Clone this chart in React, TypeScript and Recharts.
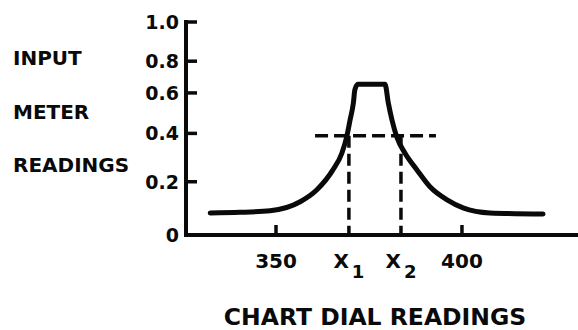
import React from 'react';
import { LineChart, Line, XAxis, YAxis, ReferenceLine, Label } from 'recharts';

// ---- data ----
const dialReadings = [
  332.3, 340.3, 348.4, 356.5, 361.0, 365.3, 367.7, 369.0, 369.9, 370.8, 371.2, 372.0,
  379.3, 380.2, 381.2, 382.5, 384.7, 387.9, 391.4, 396.0, 400.3, 407.5, 421.8,
];
const meterReadings = [
  0.083, 0.085, 0.091, 0.125, 0.17, 0.249, 0.318, 0.385, 0.465, 0.55, 0.619, 0.655,
  0.655, 0.55, 0.465, 0.384, 0.318, 0.249, 0.181, 0.132, 0.102, 0.083, 0.079,
];

const halfLevel = 0.39;
const halfLevelSpan = [360.5, 393.0];
const x1Value = 369.6;
const x2Value = 383.6;

const xTickValues = [350, x1Value, x2Value, 400];
const xTickMain = ['350', 'X', 'X', '400'];
const xTickSub = ['', '1', '2', ''];
const yTickValues = [0, 0.2, 0.4, 0.6, 0.8, 1.0];
const yTickLabels = ['0', '0.2', '0.4', '0.6', '0.8', '1.0'];
const yTitleLines = ['INPUT', 'METER', 'READINGS'];
const xTitle = 'CHART DIAL READINGS';

const data = dialReadings.map((x, i) => ({ x, y: meterReadings[i] }));

// The hand-drawn y axis is not evenly spaced: fraction of axis height at each tick
const Y_WARP_FRAC = [0, 0.25, 0.477, 0.667, 0.816, 1];

function makeWarpScale(knots: number[], fracs: number[]): any {
  let dom: number[] = [knots[0], knots[knots.length - 1]];
  let rng: number[] = [0, 1];
  const seg = (arr: number[], v: number) => {
    let i = 0;
    while (i < arr.length - 2 && v > arr[i + 1]) i++;
    return i;
  };
  const frac = (v: number) => {
    const i = seg(knots, v);
    const t = (v - knots[i]) / (knots[i + 1] - knots[i]);
    return fracs[i] + t * (fracs[i + 1] - fracs[i]);
  };
  const s: any = (v: number) => rng[0] + frac(Number(v)) * (rng[1] - rng[0]);
  s.domain = (d?: any) => {
    if (d === undefined) return dom.slice();
    dom = Array.from(d as number[]);
    return s;
  };
  s.range = (r?: any) => {
    if (r === undefined) return rng.slice();
    rng = Array.from(r as number[]);
    return s;
  };
  s.copy = () => makeWarpScale(knots, fracs).domain(dom).range(rng);
  s.ticks = () => knots.slice();
  s.invert = (px: number) => {
    const f = (px - rng[0]) / (rng[1] - rng[0]);
    const i = seg(fracs, f);
    const t = (f - fracs[i]) / (fracs[i + 1] - fracs[i]);
    return knots[i] + t * (knots[i + 1] - knots[i]);
  };
  return s;
}

const yScale = makeWarpScale(yTickValues, Y_WARP_FRAC);

const FONT = '"DejaVu Sans", sans-serif';
const INK = '#0a0a0a';

const YTick = (props: any) => {
  const { x, y, payload } = props;
  const idx = yTickValues.indexOf(payload.value);
  return (
    <g>
      {payload.value !== 0 && (
        <line x1={x} y1={y} x2={x + 11} y2={y} stroke={INK} strokeWidth={3.5} />
      )}
      <text
        x={x - 7}
        y={y + 7}
        textAnchor="end"
        fontFamily={FONT}
        fontWeight="bold"
        fontSize={19}
        fill={INK}
      >
        {yTickLabels[idx]}
      </text>
    </g>
  );
};

const XTick = (props: any) => {
  const { x, y, payload } = props;
  const idx = xTickValues.indexOf(payload.value);
  const sub = xTickSub[idx];
  return (
    <g>
      {!sub && <line x1={x} y1={y} x2={x} y2={y - 10} stroke={INK} strokeWidth={3.5} />}
      <text
        x={x}
        y={y + 33}
        textAnchor="middle"
        fontFamily={FONT}
        fontWeight="bold"
        fontSize={20}
        fill={INK}
      >
        {xTickMain[idx]}
        {sub && (
          <tspan dx={3} dy={10} fontSize={18}>
            {sub}
          </tspan>
        )}
      </text>
    </g>
  );
};

const YTitle = () => (
  <g>
    {yTitleLines.map((t, i) => (
      <text
        key={t}
        x={13}
        y={65 + i * 53.5}
        fontFamily={FONT}
        fontWeight="bold"
        fontSize={20}
        fill={INK}
      >
        {t}
      </text>
    ))}
  </g>
);

const XTitle = () => (
  <text
    x={375}
    y={325}
    textAnchor="middle"
    fontFamily={FONT}
    fontWeight="bold"
    fontSize={23.5}
    fill={INK}
  >
    {xTitle}
  </text>
);

export default function App() {
  return (
    <div style={{ position: 'absolute', left: 0, top: 0, background: '#fff' }}>
      <LineChart
        width={578}
        height={330}
        data={data}
        margin={{ top: 22, right: 0, left: 126, bottom: 65 }}
      >
        <XAxis
          dataKey="x"
          type="number"
          domain={[325.8, 431.2]}
          allowDataOverflow
          ticks={xTickValues}
          interval={0}
          height={30}
          tickSize={0}
          tickMargin={0}
          tickLine={false}
          tick={<XTick />}
          axisLine={{ stroke: INK, strokeWidth: 4, strokeLinecap: 'square' }}
        >
          <Label content={() => <XTitle />} />
        </XAxis>
        <YAxis
          dataKey="y"
          type="number"
          domain={[0, 1]}
          scale={yScale}
          ticks={yTickValues}
          interval={0}
          width={60}
          tickSize={0}
          tickMargin={0}
          tickLine={false}
          tick={<YTick />}
          axisLine={{ stroke: INK, strokeWidth: 4, strokeLinecap: 'square' }}
        >
          <Label content={() => <YTitle />} />
        </YAxis>
        <ReferenceLine
          segment={[
            { x: halfLevelSpan[0], y: halfLevel },
            { x: halfLevelSpan[1], y: halfLevel },
          ]}
          stroke={INK}
          strokeWidth={3.5}
          strokeDasharray="13 6"
          ifOverflow="visible"
        />
        <ReferenceLine
          segment={[
            { x: x1Value, y: halfLevel },
            { x: x1Value, y: 0 },
          ]}
          stroke={INK}
          strokeWidth={3.5}
          strokeDasharray="12 6"
          ifOverflow="visible"
        />
        <ReferenceLine
          segment={[
            { x: x2Value, y: halfLevel },
            { x: x2Value, y: 0 },
          ]}
          stroke={INK}
          strokeWidth={3.5}
          strokeDasharray="12 6"
          ifOverflow="visible"
        />
        <Line
          dataKey="y"
          type="monotone"
          stroke={INK}
          strokeWidth={5}
          strokeLinecap="round"
          strokeLinejoin="round"
          dot={false}
          activeDot={false}
          isAnimationActive={false}
        />
      </LineChart>
    </div>
  );
}
